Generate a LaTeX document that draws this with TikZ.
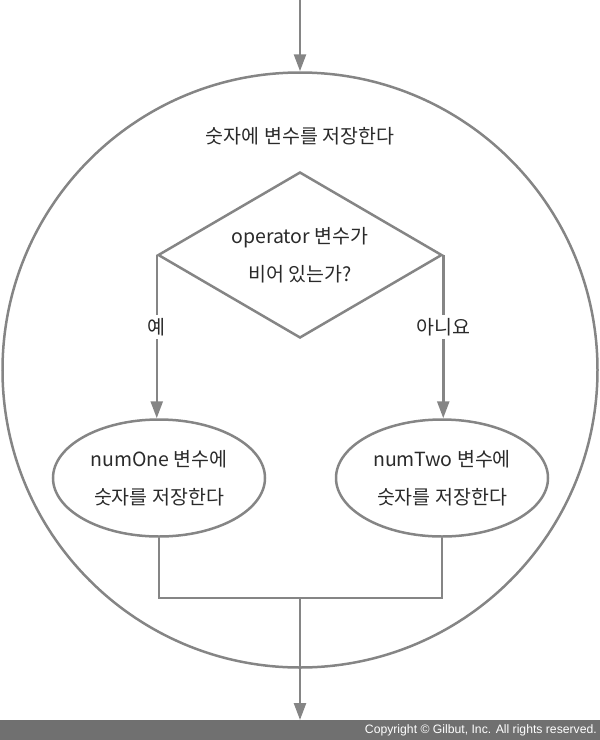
\documentclass[tikz,border=0pt]{standalone}
\usepackage{fontspec}
\setmainfont{Noto Sans CJK KR}
\newfontfamily\copyfont{Liberation Sans}
\usetikzlibrary{shapes.geometric,arrows.meta}
\definecolor{linegray}{HTML}{858585}
\definecolor{textgray}{HTML}{2A2A2A}
\definecolor{bandgray}{HTML}{707070}
\tikzset{
  conn/.style={draw=linegray, line width=2.5pt},
  arr/.style={conn, -{Triangle[width=12pt,length=17pt]}},
  txt/.style={text=textgray, font=\fontsize{19.5}{38}\selectfont, align=center},
  lbl/.style={txt, fill=white, inner sep=3pt},
  ell/.style={draw=linegray, line width=2.5pt, ellipse, minimum width=212pt, minimum height=117pt, inner sep=0pt, txt},
  dia/.style={draw=linegray, line width=2.5pt, diamond, minimum width=284pt, minimum height=166pt, inner sep=0pt},
}
\begin{document}
\begin{tikzpicture}[x=1pt,y=-1pt]
\useasboundingbox (0,0) rectangle (600,740);
\fill[bandgray] (0,720) rectangle (600,740);
\node[anchor=east, text=white, font=\copyfont\fontsize{12.2}{14}\selectfont, inner sep=0pt] (copy) at (597,730.5) {Copyright \textcopyright{} Gilbut, Inc. All rights reserved.};

\node[draw=linegray, line width=2.5pt, circle, minimum size=595pt, inner sep=0pt] (big) at (300,370) {};
\coordinate (top) at (300,0);
\draw[arr] (top) -- (big.north);
\node[txt] (title) at (300,136) {숫자에 변수를 저장한다};

\node[dia] (d) at (300,255) {};
\node[txt] (dtext) at (d.center) {operator 변수가\\비어 있는가?};
\node[ell] (e1) at (159,478) {numOne 변수에\\숫자를 저장한다};
\node[ell] (e2) at (442,478) {numTwo 변수에\\숫자를 저장한다};

\draw[arr] (d.west) -- (d.west |- e1.north) node[lbl, pos=0.44] (yes) {예};
\draw[arr] (d.east) -- (d.east |- e2.north) node[lbl, pos=0.44] (no) {아니요};

\coordinate (bar) at (300,598);
\coordinate (out) at (300,720);
\draw[conn] (e1.south) -- (e1.south |- bar) -- (e2.south |- bar) -- (e2.south);
\draw[arr] (bar) -- (out);
\end{tikzpicture}
\end{document}
